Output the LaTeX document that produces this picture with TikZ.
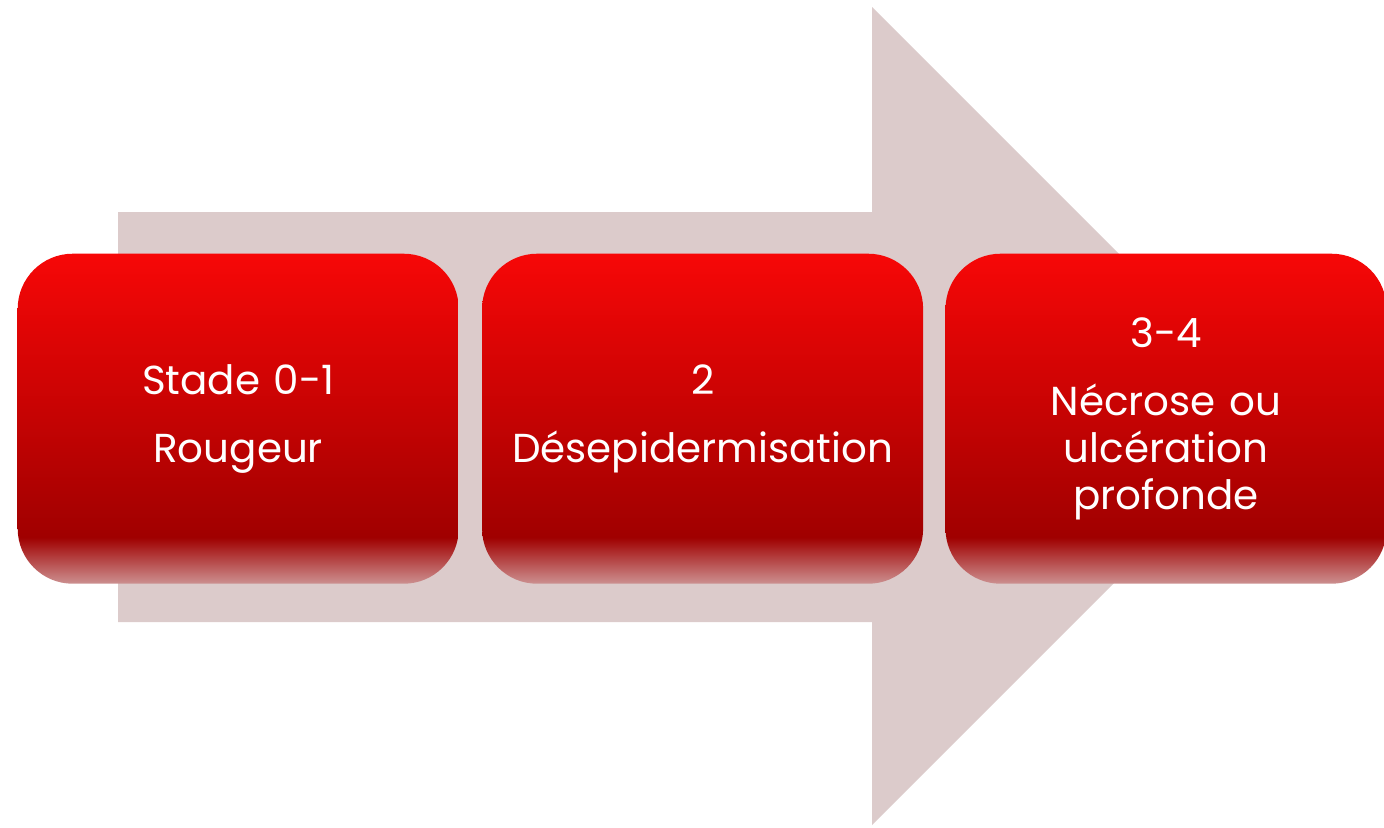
\documentclass[tikz,border=0pt]{standalone}
\usepackage{fontspec}
\setmainfont{Poppins}
\usepackage{tikz}
\usepackage{xcolor}
\usetikzlibrary{positioning}

\definecolor{arrowgray}{HTML}{DCCBCB}
\definecolor{redtop}{HTML}{F70707}
\definecolor{redbot}{HTML}{A00000}
\definecolor{redfade}{HTML}{CC9090}
\pgfdeclareverticalshading{stageshade}{100bp}{%
  color(0bp)=(redfade); color(25bp)=(redfade); color(32bp)=(redbot);
  color(75bp)=(redtop); color(100bp)=(redtop)}

\begin{document}
\begin{tikzpicture}[
  font=\fontsize{11.5pt}{13.4pt}\selectfont,
  stage/.style={
    shading=stageshade,
    rounded corners=0.55cm,
    minimum width=4.41cm,
    minimum height=3.30cm,
    text width=4.1cm,
    align=center,
    text=white,
    inner sep=0pt
  },
  bigarrow/.style={fill=arrowgray, draw=none}
]
  \useasboundingbox (0,0) rectangle (13.84,8.27);

  % background arrow
  \fill[bigarrow] (1.18,6.15) -- (8.72,6.15) -- (8.72,8.20) -- (12.81,4.11)
    -- (8.72,0.02) -- (8.72,2.05) -- (1.18,2.05) -- cycle;

  \node[stage, anchor=north west] (redness) at (0.17,5.74) {Stade 0-1\\[6pt]Rougeur};
  \node[stage, right=0.22cm of redness] (blister) {2\\[6pt]Désepidermisation};
  \node[stage, right=0.21cm of blister] (necrosis) {3-4\\[6pt]Nécrose ou\\ulcération\\profonde};
\end{tikzpicture}
\end{document}
